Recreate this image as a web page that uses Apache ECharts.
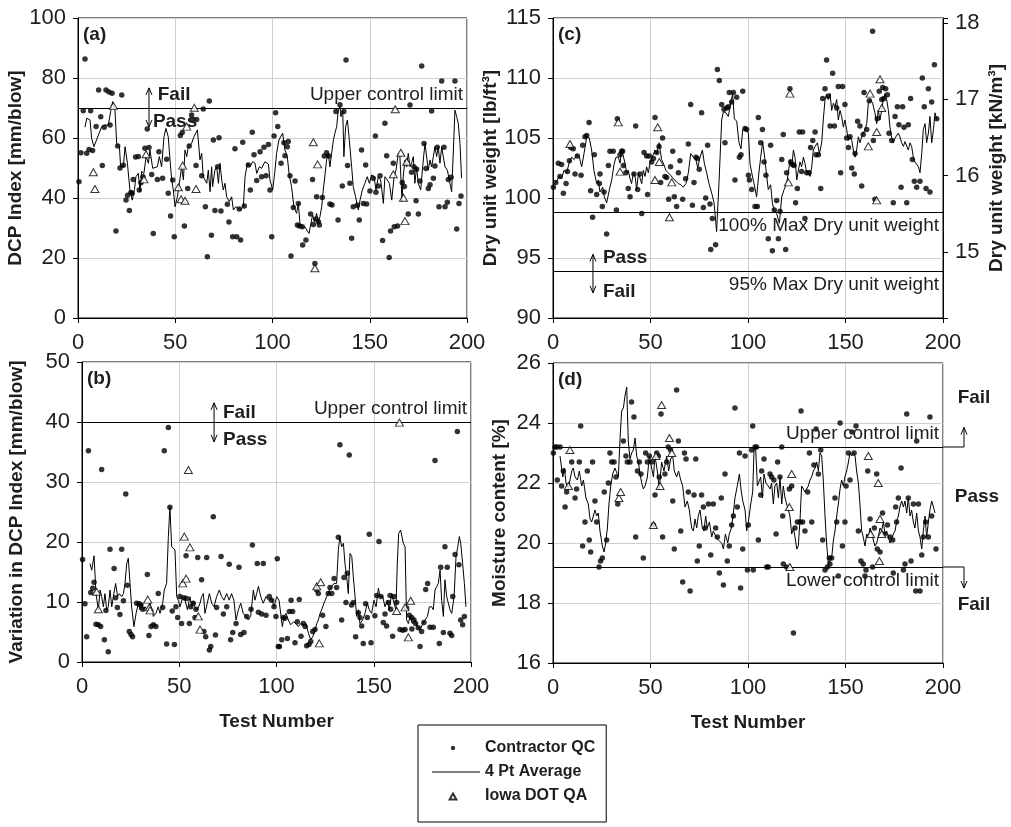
<!DOCTYPE html>
<html>
<head>
<meta charset="utf-8">
<script src="https://cdn.jsdelivr.net/npm/echarts@6/dist/echarts.min.js"></script>
<style>html,body{margin:0;padding:0;background:#fff}#c{width:1011px;height:827px}</style>
</head>
<body>
<div id="c"></div>
<script>
// ---------- tick labels ----------
const testTicks = [0, 50, 100, 150, 200];
const dcpTicks = [0, 20, 40, 60, 80, 100];
const varTicks = [0, 10, 20, 30, 40, 50];
const dryTicks = [90, 95, 100, 105, 110, 115];
const kNTicks = [15, 16, 17, 18];
const moistTicks = [16, 18, 20, 22, 24, 26];
const LB_PER_KN = 6.3659;

// ---------- limits ----------
const dcpUCL = 70, varUCL = 40, maxDry = 98.8, dry95 = 93.9, moistUCL = 23.2, moistLCL = 19.2;

// ---------- (a) DCP index ----------
const dcpQC = [[0.5,45.4],[1.5,55.1],[2.7,69.1],[3.6,86.3],[4.5,54.9],[5.7,56.2],[6.5,69.1],[7.5,55.8],[9.3,63.8],[10.6,76],[11.7,67.1],[12.5,50.8],[13.5,63.6],[14.4,76],[15.9,75.3],[16.5,64.3],[17.5,74.9],[19.5,29],[20.4,57.3],[21.6,50],[22.5,74.3],[23.3,50.9],[24.7,39.3],[25.5,40.9],[26.4,35.8],[27.2,41.8],[27.8,41.6],[28.4,46.2],[29.6,53.7],[31,53.8],[31.5,42.7],[32.4,45.1],[33.4,47.1],[34.4,56.6],[35.6,63],[36.5,56.8],[37.9,47.8],[38.7,28.2],[40.8,46.2],[41.6,55.4],[43.5,46.6],[45.6,52.9],[46.4,41.6],[47.6,34],[48.7,46],[49.5,27.1],[52.6,60.8],[53.6,61.8],[54.7,30.7],[56.4,43.2],[57.2,57.3],[58.4,67.7],[59,66.2],[60.7,50.8],[61,66.2],[63.6,47.4],[64.4,69.7],[65.5,37.1],[66.5,20.4],[67.5,72.3],[68.6,27.6],[69.6,59.3],[70.4,35.8],[71.8,50.4],[72.5,60.1],[73.5,35.7],[76.8,37.9],[77.6,32],[79.5,27.1],[80.7,56.4],[81.6,27.1],[82.9,36.3],[83.6,26],[84.7,58.6],[85.5,37.3],[87.6,51],[88.6,42.7],[89.6,61.9],[90.5,54.4],[91.9,45.8],[93.6,55.4],[94.4,47.1],[95.6,56.9],[96.7,47.4],[97.9,57.8],[98.7,42.7],[99.6,27.1],[100.8,60.7],[101.6,68.4],[102.7,63.8],[104.4,51.6],[105.9,58.4],[106.4,54.1],[107.6,57.1],[108.1,58.8],[109,47.4],[109.5,20.7],[110.7,36.8],[111.6,45.7],[112.8,31],[113.3,38.2],[113.8,30.7],[115.3,30.4],[115.5,24.3],[117.2,26],[119.6,34.7],[120.6,46.2],[121,31.2],[121.8,18.2],[122.4,33],[122.7,40.4],[123.6,32.1],[124.1,31],[125.6,40.2],[126.6,54],[127.8,55.1],[128.9,54],[129.5,38],[130.6,37.7],[132.6,68.8],[133.7,32.7],[134.7,71.1],[135.9,44],[136.7,68.8],[137.8,86],[138.6,50.8],[139.8,44.9],[140.7,26.6],[141.5,37.1],[143.6,37.6],[144.6,32.7],[145.8,56],[146.7,38.2],[147.9,51],[148.4,38],[150.1,42.3],[151.8,46.6],[152.9,60.7],[153.2,41.9],[154.4,44],[155.3,47.4],[156.6,25.8],[157.8,64.9],[158.7,54.1],[160,20.2],[160.7,29],[162.1,51.6],[162.6,30.4],[164.3,30.7],[166.7,45.2],[167.8,43.8],[169.8,34.7],[170.7,71],[171.5,48.6],[172.7,50.4],[173.8,39.1],[174.1,49.6],[175,34.7],[175.8,45.7],[176.7,84],[177.9,58.2],[178.9,49.8],[180.1,43.2],[181,44.4],[181.8,69],[182.7,46.6],[183.5,50.7],[184.7,56.9],[185.6,37.1],[187,79],[188.2,56.9],[188.7,37.1],[189.9,38.6],[190.4,46.2],[191.8,46.9],[193.8,79],[194.7,29.7],[195.9,38.2],[196.9,40.7]];
const dcpAvg = [[3.6,63.6],[4.5,66.6],[6.2,66],[7,59.9],[8.2,57.1],[10.5,61],[12.2,63.8],[13.9,64.3],[15.6,64.3],[16.8,68.8],[17.8,72.1],[19,69.3],[19.9,58.2],[21.3,57.1],[21.9,50.4],[23.3,50.4],[24.2,57.1],[25.4,51.6],[26.7,42.7],[27.9,39.3],[29,42.7],[29.8,47.1],[31,48.2],[31.9,42.1],[32.7,48.8],[33.9,48.2],[35,53.8],[36.2,51.6],[37,56],[38.4,49.9],[39.1,49.3],[40.8,50.4],[41.8,53.8],[43,50.4],[44.2,60.4],[45.2,63.2],[46.4,60.4],[47.3,52.7],[48.2,46],[49,42.7],[49.9,37.1],[51.1,40.4],[52.1,44.9],[53.3,50.4],[54.2,46],[55,56],[55.9,53.8],[56.7,57.1],[58.4,58.2],[59.6,60.4],[61.4,62.7],[62.7,52.7],[63.6,54.9],[64.4,47.1],[66.2,44.9],[67,49.3],[67.9,42.1],[68.7,50.4],[69.2,43.8],[70.4,49.3],[71.3,50.4],[72.2,44.9],[73,51.6],[73.9,46],[74.7,42.7],[75.6,44.9],[76.4,40.4],[77.8,38.8],[79,40.4],[79.9,36],[81.1,37.1],[82.4,36.6],[83.6,36],[85,37.1],[85.9,47.1],[87.1,51.6],[88.4,50.4],[89.8,52.1],[91,51.6],[91.9,48.2],[93.2,50.4],[94.4,49.9],[96.1,52.1],[97.9,51.3],[98.7,46],[100.1,42.7],[101.3,49.3],[102.1,54.9],[103.3,59.3],[105.2,61.6],[106.4,56],[107.6,53.8],[108.6,47.7],[109.8,43.8],[111,37.1],[112.4,34.9],[113.3,38.2],[114.1,31.6],[115.3,30.4],[116.7,30.4],[117.6,29.3],[118.8,28.2],[119.6,31],[120.6,34.3],[121.5,32.1],[122.7,34.9],[123.5,31.6],[124.4,33.8],[125.3,37.1],[126.1,42.7],[127,47.7],[127.8,52.7],[128.7,54.9],[129.5,50.4],[130.4,49.9],[131.3,59.3],[132.1,61.6],[133,63.8],[133.8,69.3],[134.7,70.4],[135.2,67.1],[136.1,69.3],[136.7,53.8],[137.6,63.8],[138.5,66],[139.5,59.3],[140.7,50.4],[141.5,43.8],[142.7,40.4],[144.1,36],[145,39.3],[146.2,42.7],[147.5,44.9],[148.7,47.1],[149.8,44.9],[151,47.7],[152.2,47.1],[153.2,42.7],[154.4,47.1],[155.6,46],[157,38.2],[157.8,47.1],[159,46],[160.1,44.9],[161.3,39.3],[162.5,47.1],[163.5,49.3],[164.7,54.9],[165.5,53.8],[166.6,38.8],[167.2,47.1],[168.1,52.7],[169,50.4],[169.8,54.9],[170.7,50.4],[171.5,51.6],[172.4,53.8],[173.2,44.9],[174.1,50.4],[174.9,44.9],[176.2,42.7],[177.2,50.4],[178.4,58.2],[179.2,58.8],[180.1,49.3],[181,52.7],[181.8,50.4],[182.7,53.8],[183.5,57.1],[184.4,53.8],[185.2,57.1],[186.1,51.6],[187,57.1],[187.8,53.8],[188.7,50.4],[189.9,49.3],[190.9,46],[192.1,42.1],[193,56],[193.8,69.3],[194.7,67.1],[195.5,64.9],[196.4,58.2],[197.2,46.6]];
const dcpQA = [[7.9,48.6],[8.7,43],[18.2,70.7],[33.9,46.2],[35,54.6],[51.6,43.6],[53,39.6],[53.8,50.8],[55,39.1],[55.9,63.8],[59.8,70.1],[60.7,43],[121,58.6],[121.8,16.6],[123.2,51.2],[162.1,47.9],[163.1,69.6],[166,55.1],[167.3,40.1],[168.1,32.3],[169,52.1]];

// ---------- (b) variation in DCP index ----------
const varQC = [[0.3,17.1],[1.5,9.7],[2.4,4.2],[3.3,35.2],[4.5,11.6],[5.5,12.3],[6.2,13.3],[7.2,6.3],[8.4,6.2],[9.6,5.9],[10.1,32.1],[11.5,3.7],[12.3,8.6],[13.5,1.7],[14.4,18.8],[16.5,15.6],[17.3,10.7],[18.2,9.1],[19.5,7.9],[20.4,18.8],[21.3,10.2],[22.5,28],[23.3,12.8],[24.3,5.1],[25.2,4.6],[26,4.2],[28.1,9.8],[29.3,9.7],[30.3,9.5],[31.2,8.8],[33.6,14.6],[34.4,4.4],[35.5,5.9],[36.7,6.2],[38,5.9],[39.2,11.4],[41.5,9.1],[42.3,35.2],[43.5,3],[44.4,39.1],[45.2,25.8],[46.4,8.5],[47.5,2.9],[48.3,9.2],[49.2,7.4],[50.4,10.9],[51.2,6.4],[52.4,10.7],[53.5,17.7],[53.8,10.6],[55.2,6.4],[55.9,9.2],[57.2,9.8],[58.1,7.4],[58.6,8.8],[59.5,17.4],[61.5,13.7],[62.7,5.1],[63.6,4.2],[64.1,17.4],[65.5,2],[66.2,2.6],[67.5,24.2],[68.6,4.5],[69.2,9.1],[71.5,17.6],[72.7,8],[74.4,9.2],[75.7,16.3],[76.4,3.7],[77.5,4.9],[79.2,6.4],[80.7,15.8],[81.6,4.6],[83.3,4.9],[84.7,7.6],[86.9,8.8],[87.6,19.5],[90.1,16.4],[90.7,8.3],[92.4,8],[93.2,16.4],[94.6,7.8],[96.3,10.9],[97.5,10.3],[98.7,9.2],[99.7,7.6],[100.4,17.2],[100.9,2.6],[101.5,2.6],[102.7,3.7],[103.5,7.4],[104.4,7.3],[105.6,3.9],[106.6,8.4],[107.5,10.3],[108.3,8.4],[109.5,3.2],[110.7,6.7],[111.7,10.4],[112.6,4.3],[113.8,6.4],[114.7,5.9],[115.5,2.7],[116.7,2.9],[117.6,3.4],[118.6,5.1],[119.8,5.4],[120.7,12],[121.5,11.4],[123.7,7.8],[125.4,5.9],[126.6,11.4],[127.5,12.4],[128.4,11.4],[129.6,13.9],[130.9,12.4],[131.8,20.8],[132.6,36.2],[133.5,7],[134.7,14.1],[135.7,9.9],[136.4,14.8],[137.4,34.5],[138.6,9.5],[139.5,9.9],[140.7,4.2],[142.1,8.2],[142.9,7.4],[143.8,6],[144.6,3.1],[145.8,9.7],[146.7,7.4],[147.7,21.3],[148.6,3.2],[150.6,7.7],[151.5,11.1],[152.7,20.1],[153.7,10.9],[154.9,6.6],[155.8,8],[156.6,6],[157.5,9.9],[158.4,11.1],[158.7,8.8],[159.7,4.3],[160.4,10.9],[161.8,9.9],[163.5,5.4],[164.9,5.3],[166.1,5.4],[166.9,9],[168.3,7.8],[169.5,7.4],[169.6,5.5],[170.7,7],[171.5,6.4],[172.9,5.7],[173.8,2.6],[174.6,5.1],[175.8,6.6],[176.7,12.1],[177.7,13.1],[178.9,5.8],[180.6,5.8],[181.5,33.6],[183.7,3.1],[184.4,15.8],[185.8,4.9],[186.6,19.2],[187.8,15.8],[189.2,4.8],[190.1,4.4],[190.6,10.9],[191.8,17.9],[193,38.4],[193.8,16.2],[194.7,7],[195.7,6.2],[196.6,7.6]];
const varAvg = [[4.1,16.4],[5,15.3],[6.2,17.7],[7.2,11.4],[8.4,8.7],[9.3,12],[10.1,10.9],[11,9.2],[11.8,11.4],[12.7,8.7],[13.5,9.2],[14.4,12],[15.3,9.2],[16.1,10.9],[17.3,13.1],[18.3,10.9],[19.2,11.4],[20.4,10.9],[21.3,11.4],[22.1,13.1],[23,16.4],[23.8,17.3],[24.7,13.1],[25.5,9.2],[26.7,5.9],[27.8,8.1],[29,9.8],[29.8,8.7],[30.7,9.8],[31.5,8.7],[32.4,9.2],[33.6,8.7],[35,9.8],[35.8,8.7],[36.7,7.6],[38,8.1],[39.2,9.2],[40.1,8.1],[41.5,9.8],[42.3,12],[43.5,13.1],[44.4,20.9],[45.2,25.8],[46.1,19.2],[47,18.9],[47.8,18.7],[48.7,10.9],[49.5,10.3],[50.4,9.2],[51.6,10.6],[53,10.3],[54.2,8.7],[55.5,10.9],[56.4,9.2],[57.2,10.1],[58.1,9.2],[59.3,8.7],[60.7,9.8],[61.5,10.9],[62.4,11.4],[63.2,8.1],[64.4,9.8],[65.5,11.4],[66.7,9.8],[67.9,9.2],[69.2,10.9],[70.6,12],[71.8,10.9],[73,10.3],[74.4,11.4],[75.7,10.3],[76.9,11.4],[78.1,10.3],[79.2,7],[80.4,8.7],[81.6,9.8],[82.9,8.1],[84.3,7.6],[85.5,7],[86.7,7.6],[88.1,12],[88.9,10.3],[89.8,11.4],[90.7,12.6],[91.9,10.9],[93.2,9.8],[94.6,10.9],[95.8,10.3],[97.5,10.6],[98.7,9.2],[100.1,10.9],[101.3,10.3],[103,5.9],[103.9,7.6],[104.9,8.1],[106.1,7],[107.3,6.2],[108.7,6.7],[110,6.4],[111.2,5.9],[112.4,6.4],[113.8,6.2],[115.2,6.4],[116.4,4.8],[117.6,3.7],[118.6,4.2],[119.8,5.3],[120.7,6.4],[121.5,7],[122.4,8.1],[123.2,8.7],[124.4,9.8],[125.8,10.9],[127.2,12],[128.4,12.6],[129.6,13.1],[130.9,13.1],[131.8,18.7],[132.6,20.9],[133.5,19.2],[134.4,19.8],[135.2,16.4],[136.1,14.2],[136.9,11.4],[137.8,18.1],[138.7,17.6],[139.5,14.2],[140.4,10.9],[141.2,7.6],[142.1,8.7],[142.9,6.4],[144.3,7],[145.5,8.1],[146.7,9.8],[147.7,8.7],[148.9,8.1],[150.1,10.3],[151.2,9.2],[152.4,12.3],[153.2,10.9],[154.6,10.9],[155.8,9.2],[157,10.3],[158,8.7],[159.2,11.4],[160.4,9.8],[161.4,8.7],[162.1,16.4],[162.8,21.4],[163.8,22],[165.2,19.8],[166.1,19.2],[166.9,7],[167.8,6.4],[168.6,7.6],[169.8,6.4],[171.2,7],[172.4,5.9],[173.8,5.3],[175.2,6.4],[176.4,7],[177.6,7.6],[178.6,9.2],[179.8,9.2],[180.6,8.7],[181.5,12],[182.4,12.6],[183.2,13.1],[184.1,15.3],[184.9,10.3],[185.8,7.6],[186.6,13.7],[187.5,10.9],[188.4,10.9],[189.2,8.7],[190.1,8.1],[191.3,10.9],[192.3,17.6],[193.2,19.2],[194,20.9],[194.7,19.8],[195.7,16.4],[196.6,13.1],[197.4,9.2]];
const varQA = [[7.5,11.7],[8.4,8.8],[33.8,10.4],[34.6,9.1],[35,8.6],[51.8,13.1],[52.6,20.9],[53.5,13.9],[54.7,32],[55.5,19.1],[59.8,7.6],[60.7,5.4],[120.7,12.6],[122,3.1],[122.7,13.3],[161.8,8.5],[163.2,39.9],[166.1,9.1],[167.8,4.1],[169,10.2]];

// ---------- (c) dry unit weight (lb/ft3) ----------
const dryQC = [[0.2,100.9],[1.4,101.3],[2.7,102.9],[3.6,101.8],[4.4,102.8],[5.3,100.4],[6.7,101.2],[7.4,102.2],[8.4,103.1],[9.1,104.2],[10.4,104.1],[11.3,102],[12.5,103.5],[14.4,101.9],[15.2,104.4],[16.4,105.1],[17.3,105.2],[18.5,106.3],[19.3,100.6],[20.3,98.4],[21.2,103.6],[22.4,100.3],[23.8,101.2],[24.1,102],[25.3,99.3],[26.2,100.5],[27.5,97],[28.4,102.7],[29.2,103.9],[30.9,103.9],[32.5,99],[33,106.6],[34.4,103.6],[35.2,103.9],[35.7,103.9],[36.1,102.7],[37.4,102.1],[38.6,100.8],[39.5,100.1],[41.5,102],[42.4,106],[43.4,100.7],[44.6,102],[45.5,98.7],[46.7,103.8],[48,103.5],[48.5,100.3],[49.4,103.5],[50.6,103],[51.5,103.3],[52.3,106.7],[53.2,103.8],[54.4,104.3],[55.2,101.3],[56.2,105],[57.4,101.8],[58.3,101.7],[59.3,99.9],[60.3,102.6],[61.4,103.9],[62.2,100.1],[63.4,99.3],[64.3,102.1],[65.1,103.1],[66.5,99.9],[68,101.6],[69.4,104.5],[70.6,107.8],[71.5,99.4],[72.3,101.3],[73.3,103.4],[74,103.3],[75,102.4],[76.2,107.1],[77.1,99.2],[78.3,100],[79.3,104.4],[80.5,99.5],[80.9,95.7],[81.7,98.3],[83.4,96.1],[84.3,110.7],[85.3,109.8],[86.5,107.8],[87.7,107.4],[88.2,104.6],[89.1,107.5],[89.9,107.6],[90.4,108.8],[91.6,108],[92.5,108.8],[93.3,101.5],[94.2,108.4],[95.6,103.4],[96.4,103.6],[97.3,108.9],[98.5,105.8],[99.3,105.7],[100.2,101.9],[100.7,101.5],[101.9,100.7],[103.6,99.3],[104.8,99.3],[105.3,106.7],[106.5,104.6],[107.4,105.7],[108.2,103],[109.2,101.9],[110.4,96.6],[111.6,104.4],[112.5,95.6],[113.5,99],[114.7,99.8],[115.6,96.6],[116.4,98.9],[117.3,103.2],[118.1,105.3],[119.3,95.7],[119.8,102.1],[121.5,109.1],[121.9,103],[122.9,102.8],[123.6,102.7],[124.4,99.6],[125.3,100.8],[126.3,105.5],[127.5,102.2],[128,105.5],[129.2,98.3],[130.1,102.1],[131.3,102.1],[132.1,104.2],[133.2,104.8],[134.4,105.5],[134.9,103.6],[136.1,103.6],[137.3,100.8],[138.3,108.3],[139.5,109.1],[140.3,111.5],[141.2,108.5],[142.1,106],[143.4,110.4],[144.3,106],[145.5,107.5],[146.3,109.3],[147.5,102.1],[148.5,109.3],[149.7,107.8],[150.6,105],[151.5,104.2],[152.3,105.1],[153.2,102.5],[154.5,102],[154.9,103.7],[156.2,106.4],[157.4,106],[158.3,101],[159.1,105.3],[159.5,108.8],[160.9,105.7],[162.2,108.1],[163.9,113.9],[164.3,104.8],[165.1,99.9],[166.3,106.6],[167.3,108.9],[168.6,108.2],[169.1,109.2],[169.7,108.3],[170.6,109.1],[171.5,108.6],[172.3,105.4],[173.7,104.8],[174.5,99.6],[175.4,106.8],[176.6,107.6],[177.4,106.1],[178.5,100.9],[179.3,107.6],[180,105.9],[181.4,99.6],[182.2,106.1],[183.4,108.3],[184.3,103.2],[185.3,101.4],[186.5,100.9],[188.2,101.4],[189.4,110],[190.4,107.6],[191.3,100.8],[192.5,109.1],[193.3,100.5],[194.2,108],[195.6,111.1],[196.8,106.6]];
const dryAvg = [[0.2,101.1],[1.9,101.4],[3.2,101.8],[4.4,101.6],[5.6,102.3],[7,102.1],[8.4,103],[9.6,103.4],[10.9,103.2],[12.1,103.6],[13.5,103.4],[14.7,102.6],[15.9,103.7],[17.3,105.1],[18.6,105],[19.8,104],[21,102.3],[22.4,101.2],[23.2,101.5],[24.1,100.5],[25.5,100.9],[26.3,100.1],[27.5,99.6],[28.4,99.6],[29.2,100.9],[30.1,101.5],[31.3,102.8],[32.3,103.4],[33.5,103.4],[34.4,102.9],[35.2,104.1],[36.1,104],[36.9,102.9],[37.8,102.1],[38.6,102.3],[39.5,101.6],[40.3,101.2],[41.2,102.1],[42.1,101.8],[42.9,100.7],[43.8,102.1],[44.6,102.1],[45.5,101.2],[46.3,102.3],[47.2,101.8],[48,102.6],[48.9,102.1],[49.7,102.9],[50.9,103.4],[52.3,104],[53.2,103.7],[54.4,104.6],[55.7,103.2],[56.6,102.9],[57.9,102.3],[59.1,102.1],[60.3,101.9],[61.7,101.6],[63.1,101.4],[64.3,101.2],[65.6,101.1],[66.8,100.9],[68.2,101.2],[69.4,102.1],[70.6,103.7],[72,103.4],[73.3,103.2],[74.2,102.5],[75.4,103.4],[76.6,104],[77.6,102.9],[78.8,102.1],[80,101.2],[81.4,100.4],[82.6,99.6],[83.9,97.2],[85.1,101.2],[86.5,106.5],[87.4,107.2],[88.7,107.1],[89.9,106.8],[90.8,107.6],[92.1,108.7],[93,106.6],[94.2,106.4],[95.4,104.6],[96.4,104.1],[97.3,105.7],[98.5,105.9],[100.2,105.4],[101,102.9],[101.9,102.1],[103.1,101.2],[104.4,100.1],[105.6,102.1],[106.5,103.4],[107.5,104.7],[108.7,103.2],[109.6,101.8],[110.4,100.7],[111.6,101.1],[112.5,99.6],[113.3,99],[114.7,98.7],[116.1,97.9],[117.3,100.1],[118.5,100.7],[119.8,101.2],[120.7,102.1],[121.5,103.2],[122.4,102.6],[123.3,104],[124.1,103.4],[125,101.5],[125.8,102.3],[126.7,103],[127.5,102.6],[128.4,103.4],[129.2,102.9],[130.1,102.1],[130.9,102.3],[131.8,101.8],[132.7,102.6],[133.5,104],[134.4,104.3],[135.6,104.6],[136.6,103.7],[137.8,104.6],[138.6,106.5],[139.5,108.2],[140.3,108.6],[141.2,108.2],[142.1,108.7],[142.9,107.3],[143.8,107.9],[144.6,107.6],[145.5,108.2],[146.3,106.5],[147.2,107.3],[148,106.8],[148.9,105.9],[149.7,106.5],[150.6,105.7],[151.5,104.8],[152.3,105.1],[153.2,104.8],[154,104],[154.9,103.4],[155.7,104],[156.6,105.1],[157.4,104.6],[158.3,105.1],[159.1,105.4],[160,105.7],[160.9,106.2],[161.7,107.9],[162.9,108.2],[163.9,107.9],[165.1,107.1],[166,106.2],[166.8,107.3],[167.7,106.5],[168.5,107.3],[169.4,108.2],[170.3,108.7],[171.1,108.2],[172,107.3],[172.8,105.9],[173.7,105],[174.5,104.6],[175.4,105],[176.2,105.1],[177.1,105.4],[177.9,105.1],[178.8,104.6],[179.7,104.3],[180.5,104.7],[181.4,104.8],[182.2,104],[183.1,104.6],[183.9,104.3],[184.8,103.4],[185.6,103],[186.5,102.9],[187.4,102.6],[188.2,102.1],[189.1,103.7],[189.9,105.7],[190.8,106.2],[191.6,104.6],[192.5,105.4],[193.3,106.8],[194.2,104.6],[195.1,105.7],[195.9,107.1],[196.8,106.5]];
const dryQA = [[8.7,104.5],[33.5,106.3],[34.4,102.2],[52.3,101.5],[53.7,105.9],[54.5,103],[59.7,98.4],[60.9,101.3],[120.7,101.3],[121.5,108.7],[161.7,104.3],[162.6,108.7],[166,105.5],[166,99.8],[167.7,109.9],[168.6,107.5]];

// ---------- (d) moisture content ----------
const moistQC = [[0.2,23],[1,23.2],[1.9,23.2],[2.2,22.1],[3.6,23.2],[4.4,21.9],[5.3,22.4],[6.2,21.2],[7,21.7],[9.6,22.7],[11.3,21.5],[12.1,21.8],[13.5,22.7],[14.2,23.9],[15.2,19.9],[16.4,20.7],[17.6,22.4],[18.6,20.1],[19.3,19.7],[20.3,22.7],[21.5,21.4],[22.4,20.7],[23.6,19.2],[24.4,19.4],[25.3,19.5],[26.3,21.7],[27.5,20.1],[28.4,22],[29.2,23],[30.1,22.7],[31.3,22.7],[32.3,22.2],[33.2,21.3],[36.1,23.4],[37.4,22.9],[38.1,22.7],[39.5,22.7],[40.3,24.7],[41.5,24.2],[42.4,20.2],[43.3,22.4],[44.3,22.7],[45.1,22.3],[46.3,19.5],[47.5,23],[48.4,22.7],[49.4,22.9],[50.6,22.7],[51.5,20.6],[52.3,21.6],[53.2,23],[54,22.9],[54.5,22.2],[55.4,24.3],[56.2,20.2],[57.4,22.3],[58.3,22.7],[59.1,23.2],[60.3,23.1],[61.4,21.4],[62.2,19.8],[63.4,25.1],[64.3,23.4],[65.5,20.4],[66.5,18.7],[67.4,23],[68.2,22.8],[69.4,21.7],[70.3,18.4],[72.3,21.6],[73.2,22.8],[74,19.4],[75,19.9],[76.2,21.6],[77.1,21.2],[78.1,20.5],[79.7,21.3],[80.9,19.6],[82.2,21.3],[83.4,20.5],[84.3,20.2],[85.3,19],[86.3,21.5],[87.4,18.6],[88.2,22.3],[89.4,19.4],[90.4,19.9],[91.6,20.6],[92.5,20.9],[93.3,24.5],[94.5,21.2],[95.6,23],[96.2,18.5],[97.3,19.8],[98.5,22.9],[99.7,19.1],[100.2,20.6],[101.9,23.1],[102.4,23.9],[102.7,19.1],[103.6,23.2],[104.4,23.2],[105.3,20.1],[106.5,21.6],[107,22.4],[108.2,22.8],[109.6,19.2],[110.4,19.2],[111.3,22.3],[112.1,22.2],[113.3,22.1],[114.4,20.3],[115.2,22.7],[116.4,22.2],[117.3,23.2],[117.8,20.9],[118.1,19.3],[119.8,19.2],[121.2,21.8],[122.4,21.9],[123.3,17],[124.1,20.5],[125.3,20.7],[126.7,20.7],[127.2,24.4],[128,20.7],[129.2,20.4],[130.6,21.7],[131.5,23],[132.7,20.7],[133.8,22.6],[134.9,23.8],[136.1,22.3],[137.3,23.1],[138.3,20.1],[139.5,19.1],[140.7,19.2],[141.7,19.5],[142,19.3],[142.9,19.5],[144.6,21.5],[145.5,20.7],[146.3,18.9],[147.2,24],[148.4,19.9],[149.7,20.7],[150.3,21.9],[151.5,23],[152.3,22.1],[153.3,23.7],[154.4,23],[155.4,23.9],[156.6,20.4],[157.9,19.4],[159.1,19.3],[160,18.9],[160.5,19.1],[161.4,22.4],[162.6,20.8],[163.9,19.2],[164.8,20.5],[166,22.3],[166.3,19.8],[167.7,19.7],[169,21],[169.9,20.3],[171.5,20.6],[172.8,20.2],[174.2,20.1],[174.5,19],[175.7,21.2],[176.2,20.7],[177.1,21.5],[178.5,22.5],[179.7,19.1],[180.5,19.3],[181.4,24.3],[182.2,21.5],[183.6,19.4],[184.8,21.3],[186,18.4],[186.5,23.4],[187.4,21.3],[188.2,18.4],[189.1,19.6],[189.9,20.2],[191.1,20.7],[192.5,20.2],[193.3,24.2],[194.2,20.9],[196.4,19.8]];
const moistAvg = [[3.6,22.9],[5,22.2],[5.8,22.5],[6.7,22],[7.9,21.8],[8.7,22.1],[9.6,22.4],[10.4,22.5],[11.3,22.2],[12.5,22.1],[13.5,22.4],[14.7,21.9],[15.6,22.1],[16.9,21.5],[18.1,21.3],[19,20.8],[19.8,20.7],[20.7,20.9],[21.5,21.1],[22.4,20.9],[23.2,21],[24.1,20.4],[25.3,19.9],[26.2,19.7],[27,20],[27.9,20.5],[28.7,21.3],[29.6,21.9],[30.6,22.3],[31.8,22.5],[32.6,22.5],[33.5,22.2],[34.4,23.5],[35.2,24.4],[36.1,24.5],[36.9,24.9],[37.8,25.2],[38.6,23.4],[39.5,22.8],[40.3,23],[41.2,23.1],[42.1,23.5],[42.9,22.9],[43.8,22.7],[44.6,22.3],[45.5,22],[46.3,21.8],[47.2,21.9],[48.4,22.2],[49.4,22.9],[50.6,22.5],[51.5,22.2],[52.3,22.9],[53.5,22.4],[54.5,21.8],[55.7,22.7],[56.9,22.4],[58.3,22.9],[59.3,22.4],[60.3,22.8],[61.4,22.9],[62.2,22.4],[63.4,22.2],[64.4,22.4],[65.5,22.1],[66.5,21.9],[67.7,21.2],[68.9,21.4],[69.9,21.1],[71.1,20.5],[72,20.4],[72.8,20.8],[73.7,20.5],[74.5,20.9],[75.4,21.1],[76.6,20.5],[77.4,20.4],[78.3,20.9],[79.1,20.5],[80.2,20.7],[81.4,20.2],[82.2,20.4],[83.6,20.2],[84.8,20.1],[86.5,20],[87.4,19.8],[88.4,20.3],[89.6,20],[90.4,20.3],[91.5,20.5],[92.5,21],[93.3,21.5],[94.5,21.9],[95.6,22.3],[96.4,21.8],[97.3,21.4],[98.5,21.1],[99.3,20.4],[100.2,20.7],[101.4,21.3],[102.4,21.7],[103.1,23.1],[103.9,23.2],[104.8,21.9],[105.6,21.9],[106.5,22.2],[107.4,21.5],[108.2,22.3],[109.2,22],[110.4,21.9],[111.3,21.8],[112.1,22],[113,21.3],[113.8,21.9],[114.7,22],[115.6,21.5],[116.4,22.2],[117.3,21.3],[118.1,21.9],[119,21.5],[119.8,21.3],[120.7,21.1],[121.5,20.9],[122.4,20.3],[123.3,20.5],[124.1,20.2],[125,19.8],[125.8,19.9],[126.7,20.8],[127.5,21.9],[128.4,21.8],[129.2,21.7],[130.1,21.8],[130.9,21.9],[131.8,22.1],[132.6,22.2],[133.5,22.4],[134.4,22.5],[135.2,22.7],[136.1,22.4],[136.9,23],[137.8,22.9],[138.6,22.1],[139.5,20.9],[140.3,20],[141.2,19.3],[142.1,19.3],[142.9,19.5],[143.8,20.1],[144.6,20.4],[145.5,20.9],[146.3,21.3],[147.2,21.8],[148,22.1],[148.9,21.9],[149.7,22.2],[150.6,22.4],[151.5,22.7],[152.3,23],[153.2,22.9],[154,23],[154.9,22.9],[155.7,22.4],[156.6,22],[157.4,21.3],[158.3,20.4],[159.1,20.2],[160,19.9],[160.9,20.3],[161.7,20.2],[162.6,20.5],[163.4,20.3],[164.3,20.1],[165.1,19.9],[166,20],[166.8,20.2],[167.7,20.5],[168.5,20.4],[169.4,20.7],[170.3,20.3],[171.1,20.4],[172,20.2],[172.8,20],[173.7,20.1],[174.5,20.3],[175.4,20.4],[176.2,20.7],[177.1,20.9],[177.9,21.2],[178.8,21.4],[179.7,21.2],[180.5,21.4],[181.4,21],[182.2,21.5],[183.1,20.9],[183.9,21.1],[184.8,20.7],[185.6,20.5],[186.5,21],[187.4,20.4],[188.2,20.2],[189.1,19.8],[189.9,20.4],[190.8,20.9],[191.6,20.2],[192.5,20.7],[193.3,21.1],[194.2,21.4],[195.1,21.2],[195.9,21]];
const moistQA = [[7.9,21.9],[8.7,23.1],[33.8,21.5],[34.7,21.7],[51.5,20.6],[52.8,22.9],[54.9,21.9],[55.7,24.6],[59.7,23.5],[60.9,23],[121.2,21.2],[121.5,19.2],[122.4,22.3],[161.7,22.9],[162.9,20.3],[166.8,22],[167.4,19.4],[167.7,20.8],[168.6,20.3]];

// ---------- chart ----------
const FONT = '"Liberation Sans", Arial, Helvetica, sans-serif';
const TXT = '#1e1e1e';
const GRIDC = '#cfcfcf';
const chart = echarts.init(document.getElementById('c'), null, {renderer: 'canvas'});

const grids = [
  {left: 78, top: 18, width: 389, height: 300},
  {left: 82, top: 362, width: 389, height: 300},
  {left: 553, top: 18, width: 390, height: 300},
  {left: 553, top: 363, width: 390, height: 300}
].map(g => Object.assign({show: true, borderColor: '#000', borderWidth: 1, backgroundColor: 'transparent'}, g));

function xAx(g, named) {
  return {
    gridIndex: g, type: 'value',
    min: testTicks[0], max: testTicks[testTicks.length - 1], interval: testTicks[1] - testTicks[0],
    axisLine: {show: true, lineStyle: {color: '#000', width: 1}},
    axisTick: {show: true, length: 5, lineStyle: {color: '#000'}},
    axisLabel: {fontSize: 22, color: TXT, fontFamily: FONT, margin: 14},
    splitLine: {show: true, lineStyle: {color: GRIDC, width: 1}},
    name: named ? 'Test Number' : '', nameLocation: 'middle', nameGap: 50,
    nameTextStyle: {fontSize: 19, fontWeight: 'bold', color: TXT, fontFamily: FONT}
  };
}
function yAx(g, ticks, name, gap) {
  return {
    gridIndex: g, type: 'value',
    min: ticks[0], max: ticks[ticks.length - 1], interval: ticks[1] - ticks[0],
    axisLine: {show: true, lineStyle: {color: '#000', width: 1}},
    axisTick: {show: true, length: 5, lineStyle: {color: '#000'}},
    axisLabel: {fontSize: 22, color: TXT, fontFamily: FONT, margin: 12},
    splitLine: {show: true, lineStyle: {color: GRIDC, width: 1}},
    name: name, nameLocation: 'middle', nameGap: gap,
    nameTextStyle: {fontSize: 19, fontWeight: 'bold', color: TXT, fontFamily: FONT}
  };
}

const yAxes = [
  yAx(0, dcpTicks, 'DCP Index [mm/blow]', 52),
  yAx(1, varTicks, 'Variation in DCP Index [mm/blow]', 56),
  yAx(2, dryTicks, 'Dry unit weight [lb/ft³]', 52),
  yAx(3, moistTicks, 'Moisture content [%]', 44),
  {
    gridIndex: 2, type: 'value', position: 'right',
    min: dryTicks[0] / LB_PER_KN, max: dryTicks[dryTicks.length - 1] / LB_PER_KN,
    minInterval: 1, maxInterval: 1,
    axisLine: {show: true, lineStyle: {color: '#000', width: 1}},
    axisTick: {show: true, length: 5, lineStyle: {color: '#000'}},
    axisLabel: {fontSize: 22, color: TXT, fontFamily: FONT, margin: 12,
      formatter: v => { const r = Math.round(v); return (Math.abs(v - r) < 1e-6 && kNTicks.indexOf(r) >= 0) ? String(r) : ''; }},
    splitLine: {show: false},
    name: 'Dry unit weight [kN/m³]', nameLocation: 'middle', nameGap: 44, nameRotate: 90,
    nameTextStyle: {fontSize: 19, fontWeight: 'bold', color: TXT, fontFamily: FONT}
  }
];

function mlLabel(text, pos) {
  return {show: true, formatter: text, position: pos, fontSize: 19, color: TXT, fontFamily: FONT, distance: 4};
}
function panelSeries(g, yIdx, qc, avg, qa, marks) {
  return [
    {name: 'Contractor QC', type: 'scatter', xAxisIndex: g, yAxisIndex: yIdx, data: qc,
     symbol: 'circle', symbolSize: 5.5, itemStyle: {color: '#000'}, z: 3, silent: true},
    {name: '4 Pt Average', type: 'line', xAxisIndex: g, yAxisIndex: yIdx, data: avg,
     symbol: 'none', showSymbol: false, lineStyle: {color: '#000', width: 1}, itemStyle: {color: '#000'}, z: 4, silent: true,
     markLine: {silent: true, symbol: 'none', animation: false,
       lineStyle: {color: '#000', type: 'solid', width: 1.2},
       data: marks}},
    {name: 'Iowa DOT QA', type: 'scatter', xAxisIndex: g, yAxisIndex: yIdx, data: qa,
     symbol: 'triangle', symbolSize: [8, 7], itemStyle: {color: '#fff', borderColor: '#000', borderWidth: 1}, z: 5, silent: true}
  ];
}

const series = [].concat(
  panelSeries(0, 0, dcpQC, dcpAvg, dcpQA, [{yAxis: dcpUCL, label: mlLabel('Upper control limit', 'insideEndTop')}]),
  panelSeries(1, 1, varQC, varAvg, varQA, [{yAxis: varUCL, label: mlLabel('Upper control limit', 'insideEndTop')}]),
  panelSeries(2, 2, dryQC, dryAvg, dryQA, [
    {yAxis: maxDry, label: mlLabel('100% Max Dry unit weight', 'insideEndBottom')},
    {yAxis: dry95, label: mlLabel('95% Max Dry unit weight', 'insideEndBottom')}]),
  panelSeries(3, 3, moistQC, moistAvg, moistQA, [
    {yAxis: moistUCL, label: mlLabel('Upper control limit', 'insideEndTop')},
    {yAxis: moistLCL, label: mlLabel('Lower control limit', 'insideEndBottom')}])
);

const option = {
  animation: false,
  backgroundColor: '#fff',
  textStyle: {fontFamily: FONT},
  grid: grids,
  xAxis: [xAx(0, false), xAx(1, true), xAx(2, false), xAx(3, true)],
  yAxis: yAxes,
  legend: {
    show: true, orient: 'vertical', left: 418, top: 725,
    padding: [15, 11, 18, 13], itemGap: 8,
    itemWidth: 48, itemHeight: 8,
    borderColor: '#000', borderWidth: 1, backgroundColor: '#fff',
    selectedMode: false,
    textStyle: {fontSize: 16, fontWeight: 'bold', color: TXT, fontFamily: FONT},
    data: [
      {name: 'Contractor QC', icon: 'path://M0,0M48,8M18.8,4A2.2,2.2,0,1,1,23.2,4A2.2,2.2,0,1,1,18.8,4Z'},
      {name: '4 Pt Average', icon: 'path://M0,0M48,8M0,3.5L48,3.5L48,4.5L0,4.5Z', itemStyle: {color: '#000', borderWidth: 0}},
      {name: 'Iowa DOT QA', icon: 'path://M0,0M48,8M17.6,7.5L21,1.5L24.4,7.5Z'}
    ]
  },
  series: series
};
chart.setOption(option);

// ---------- annotations placed through the axes ----------
function P(g, x, y) { return chart.convertToPixel({gridIndex: g}, [x, y]); }
const G = [];
function txt(x, y, s, bold, align) {
  G.push({type: 'text', x: x, y: y, z: 50, silent: true,
    style: {text: s, fontSize: 19, fontWeight: bold ? 'bold' : 'normal', fontFamily: FONT, fill: TXT,
      align: align || 'left', verticalAlign: 'middle'}});
}
function seg(x1, y1, x2, y2) {
  G.push({type: 'line', z: 50, silent: true, shape: {x1: x1, y1: y1, x2: x2, y2: y2}, style: {stroke: '#000', lineWidth: 1}});
}
function head(x, y, dir) { // dir -1 = up, +1 = down
  G.push({type: 'polyline', z: 50, silent: true, shape: {points: [[x - 3, y - dir * 7], [x, y], [x + 3, y - dir * 7]]},
    style: {stroke: '#000', fill: null, lineWidth: 1}});
}
function dbl(g, x, yTop, yBot) {
  const a = P(g, x, yTop), b = P(g, x, yBot);
  seg(a[0], a[1], b[0], b[1]); head(a[0], a[1], -1); head(b[0], b[1], 1);
}

// panel letters
['(a)', '(b)', '(c)', '(d)'].forEach((s, i) => {
  txt(grids[i].left + 5, grids[i].top + 17, s, true);
});

// (a)
dbl(0, 36.5, 76.7, 63.7);
(function(){ const p = P(0, 41, 74.3); txt(p[0], p[1], 'Fail', true); const q = P(0, 38.5, 65.3); txt(q[0], q[1], 'Pass', true); })();
// (b)
dbl(1, 67.9, 43.2, 36.7);
(function(){ const p = P(1, 72.5, 41.5); txt(p[0], p[1], 'Fail', true); const q = P(1, 72.5, 37); txt(q[0], q[1], 'Pass', true); })();
// (c)
dbl(2, 20.5, 95.3, 92.1);
(function(){ const p = P(2, 25.6, 95); txt(p[0], p[1], 'Pass', true); const q = P(2, 25.6, 92.2); txt(q[0], q[1], 'Fail', true); })();
// (d) limit lines continue past the frame with arrows
(function(){
  const u = P(3, testTicks[testTicks.length - 1], moistUCL), l = P(3, testTicks[testTicks.length - 1], moistLCL);
  const ex = u[0] + 21;
  seg(u[0], u[1], ex, u[1]); seg(l[0], l[1], ex, l[1]);
  const uTop = P(3, 200, 23.85)[1], lBot = P(3, 200, 18.5)[1];
  seg(ex, u[1], ex, uTop); head(ex, uTop, -1);
  seg(ex, l[1], ex, lBot); head(ex, lBot, 1);
  txt(u[0] + 31, P(3, 200, 24.83)[1], 'Fail', true, 'center');
  txt(u[0] + 34, P(3, 200, 21.53)[1], 'Pass', true, 'center');
  txt(u[0] + 31, P(3, 200, 17.93)[1], 'Fail', true, 'center');
})();

chart.setOption({graphic: G});
</script>
</body>
</html>
